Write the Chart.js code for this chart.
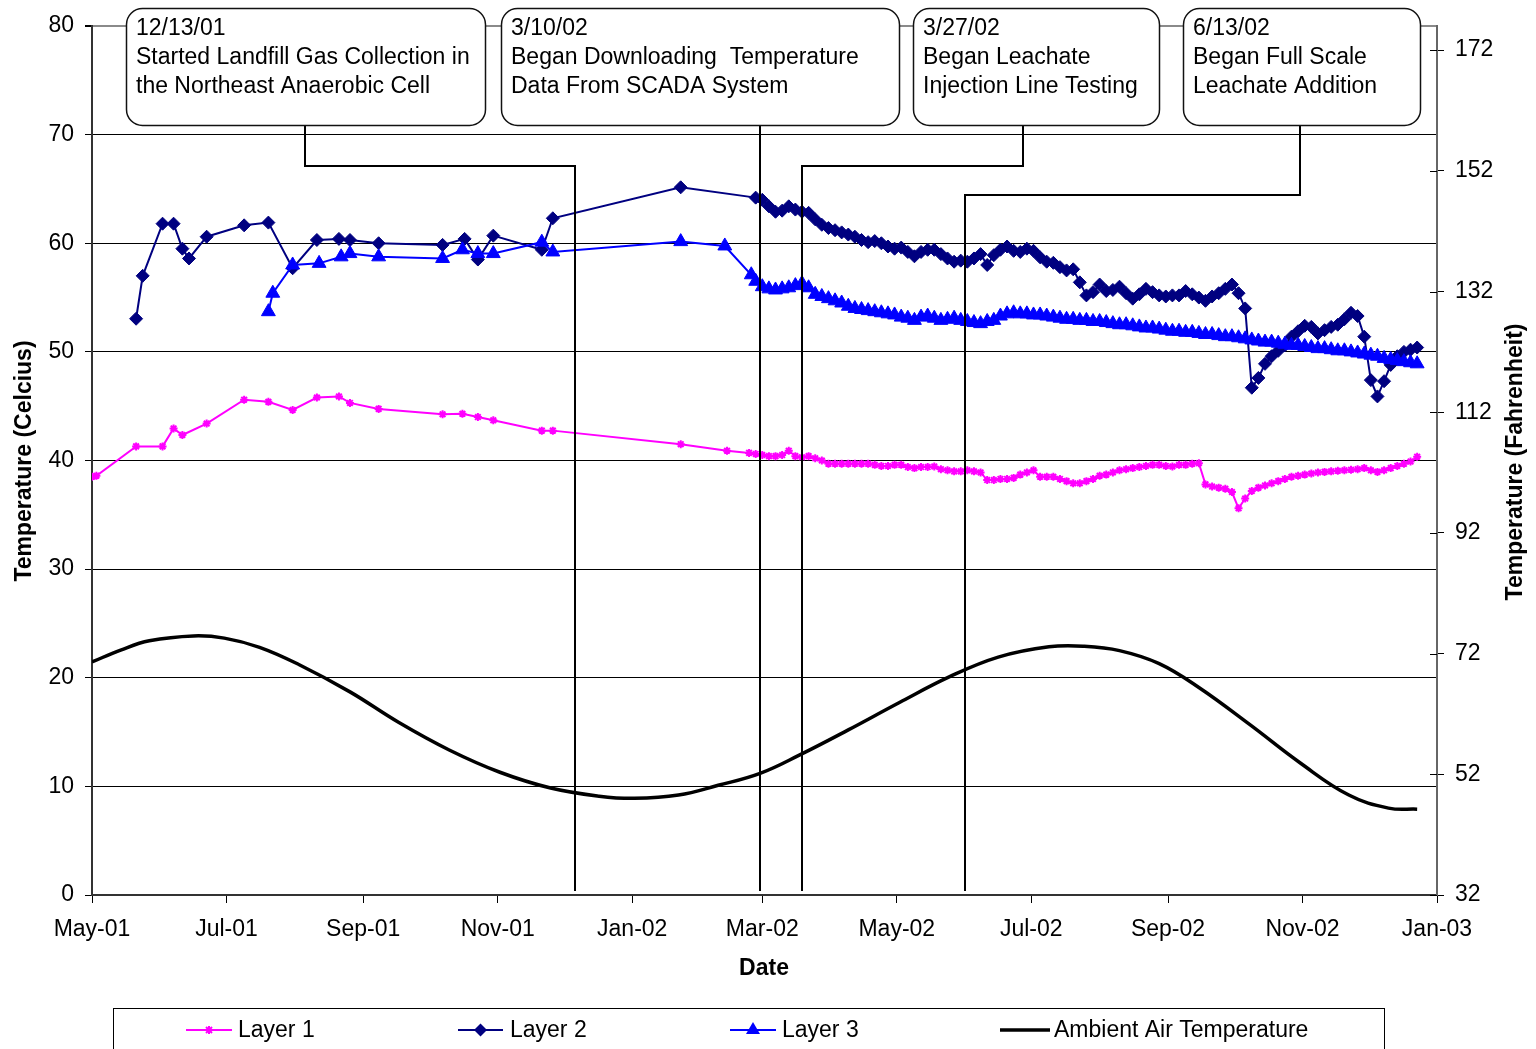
<!DOCTYPE html>
<html>
<head>
<meta charset="utf-8">
<title>Landfill Layer Temperatures</title>
<script src="https://cdn.jsdelivr.net/npm/chart.js@4.4.1/dist/chart.umd.min.js"></script>
<style>
  html, body { margin: 0; padding: 0; background: #fff; }
  canvas { display: block; }
</style>
</head>
<body>
<canvas id="chart" width="1536" height="1049"></canvas>
<script>
// ---- Manual readings (before SCADA logging) ----
const layer1Dates = ['2001-05-01','2001-05-03','2001-05-21','2001-06-02','2001-06-07','2001-06-11','2001-06-22','2001-07-09','2001-07-20','2001-07-31','2001-08-11','2001-08-21','2001-08-26','2001-09-08','2001-10-07','2001-10-16','2001-10-23','2001-10-30','2001-11-21','2001-11-26','2002-01-23','2002-02-13','2002-02-23'];
const layer1Manual = [38.5,38.6,41.3,41.3,42.95,42.35,43.4,45.6,45.4,44.65,45.8,45.9,45.3,44.75,44.25,44.3,44.0,43.7,42.75,42.75,41.5,40.9,40.7];

const layer2Dates = ['2001-05-21','2001-05-24','2001-06-02','2001-06-07','2001-06-11','2001-06-14','2001-06-22','2001-07-09','2001-07-20','2001-07-31','2001-08-11','2001-08-21','2001-08-26','2001-09-08','2001-10-07','2001-10-17','2001-10-23','2001-10-30','2001-11-21','2001-11-26','2002-01-23'];
const layer2Manual = [53.05,57.0,61.8,61.8,59.5,58.6,60.6,61.65,61.9,57.7,60.3,60.4,60.3,60.0,59.85,60.4,58.5,60.7,59.4,62.3,65.15];

const layer3Dates = ['2001-07-20','2001-07-22','2001-07-31','2001-08-12','2001-08-22','2001-08-26','2001-09-08','2001-10-07','2001-10-16','2001-10-23','2001-10-30','2001-11-21','2001-11-26','2002-01-23','2002-02-12','2002-02-24'];
const layer3Manual = [53.7,55.4,58.0,58.15,58.75,59.05,58.75,58.6,59.4,59.05,59.05,60.1,59.2,60.15,59.75,57.1];

// ---- SCADA readings, one every scadaStepDays from scadaStart ----
const scadaStart = '2002-02-26';
const scadaStepDays = 3;
const layer1Scada = [
  40.6,40.5,40.4,40.4,40.5,40.9,40.4,40.3,40.4,40.2,
  40.0,39.7,39.7,39.7,39.7,39.7,39.7,39.7,39.6,39.5,
  39.5,39.6,39.6,39.4,39.3,39.4,39.4,39.45,39.2,39.1,
  39.0,39.0,39.1,39.0,38.9,38.2,38.2,38.3,38.3,38.4,
  38.7,38.9,39.1,38.5,38.5,38.5,38.3,38.1,37.9,37.9,
  38.1,38.3,38.6,38.7,38.9,39.1,39.2,39.3,39.4,39.5,
  39.6,39.6,39.5,39.45,39.6,39.6,39.7,39.75,37.8,37.6,
  37.5,37.4,37.1,35.6,36.5,37.2,37.5,37.7,37.9,38.1,
  38.3,38.5,38.6,38.7,38.8,38.9,38.95,39.0,39.05,39.1,
  39.15,39.2,39.3,39.1,38.95,39.1,39.3,39.5,39.7,39.9,
  40.35];
const layer2Scada = [
  64.2,64.0,63.4,62.9,63.0,63.4,63.1,62.9,62.8,62.2,
  61.7,61.4,61.2,61.0,60.8,60.6,60.3,60.1,60.2,60.0,
  59.7,59.5,59.6,59.2,58.8,59.2,59.4,59.4,59.0,58.6,
  58.3,58.4,58.3,58.6,59.0,58.0,58.9,59.4,59.7,59.3,
  59.2,59.5,59.3,58.7,58.3,58.2,57.8,57.5,57.6,56.4,
  55.2,55.5,56.2,55.6,55.7,56.0,55.4,54.9,55.3,55.8,
  55.5,55.2,55.1,55.2,55.2,55.6,55.3,55.0,54.7,55.1,
  55.4,55.8,56.2,55.4,54.0,46.7,47.6,48.9,49.6,50.1,
  50.6,51.4,51.9,52.4,52.3,51.7,52.0,52.3,52.5,53.0,
  53.6,53.3,51.4,47.4,45.9,47.3,48.8,49.6,50.0,50.2,
  50.4];
const layer3Scada = [
  56.5,56.0,55.8,55.7,55.8,55.9,56.1,56.3,55.9,55.3,
  55.1,54.9,54.7,54.5,54.2,54.0,53.9,53.8,53.7,53.6,
  53.5,53.4,53.2,53.1,52.9,53.2,53.3,53.1,52.9,53.0,
  53.1,52.9,52.8,52.7,52.6,52.8,52.9,53.3,53.5,53.6,
  53.5,53.5,53.4,53.4,53.3,53.2,53.1,53.0,53.0,52.9,
  52.9,52.8,52.8,52.7,52.6,52.5,52.5,52.4,52.3,52.2,
  52.2,52.1,52.0,51.9,51.9,51.8,51.8,51.7,51.6,51.6,
  51.5,51.4,51.4,51.3,51.2,51.1,51.0,50.9,50.9,50.8,
  50.7,50.6,50.6,50.5,50.4,50.3,50.3,50.2,50.1,50.1,
  50.0,49.9,49.8,49.7,49.6,49.4,49.3,49.2,49.1,49.0,
  48.9];

// ---- Ambient air temperature ----
const ambientDates = ['2001-05-01','2001-05-14','2001-05-27','2001-06-16','2001-06-30','2001-07-16','2001-08-03','2001-08-26','2001-09-17','2001-10-10','2001-11-02','2001-11-25','2001-12-17','2002-01-02','2002-01-22','2002-02-09','2002-02-28','2002-03-18','2002-04-09','2002-05-02','2002-05-25','2002-06-16','2002-07-09','2002-07-25','2002-08-10','2002-08-28','2002-09-15','2002-10-08','2002-10-31','2002-11-22','2002-12-10','2002-12-23'];
const ambientTemps = [21.45,22.55,23.4,23.85,23.65,22.8,21.2,18.7,15.9,13.35,11.3,9.85,9.1,8.9,9.2,10.1,11.2,12.9,15.2,17.7,20.1,21.9,22.85,22.9,22.5,21.3,19.1,15.7,12.15,9.2,8.0,7.9];

// ---- Axes ----
const xTickDates = ['2001-05-01','2001-07-01','2001-09-01','2001-11-01','2002-01-01','2002-03-01','2002-05-01','2002-07-01','2002-09-01','2002-11-01','2003-01-01'];
const xTickLabels = ['May-01','Jul-01','Sep-01','Nov-01','Jan-02','Mar-02','May-02','Jul-02','Sep-02','Nov-02','Jan-03'];
const fahrenheitTicks = [32,52,72,92,112,132,152,172];

// ---- Event callouts ----
const calloutTitles = ['12/13/01','3/10/02','3/27/02','6/13/02'];
const calloutText = [
  ['Started Landfill Gas Collection in','the Northeast Anaerobic Cell'],
  ['Began Downloading  Temperature','Data From SCADA System'],
  ['Began Leachate','Injection Line Testing'],
  ['Began Full Scale','Leachate Addition']
];
const calloutLineDates = ['2001-12-06','2002-02-28','2002-03-19','2002-06-01'];

const seriesNames = ['Layer 1','Layer 2','Layer 3','Ambient Air Temperature'];

// ---- helpers ----
const BASE = Date.UTC(2001, 4, 1);
function dayOf(s) {
  const [y, m, d] = s.split('-').map(Number);
  return (Date.UTC(y, m - 1, d) - BASE) / 86400000;
}
function buildSeries(dates, manual, scada) {
  const pts = manual.map((v, i) => ({ x: dayOf(dates[i]), y: v }));
  const s0 = dayOf(scadaStart);
  (scada || []).forEach((v, i) => pts.push({ x: s0 + i * scadaStepDays, y: v }));
  return pts;
}
const xTickDays = xTickDates.map(dayOf);

const FONT = '"Liberation Sans", Arial, sans-serif';
const FONT_SIZE = 23;
Chart.defaults.font.family = FONT;
Chart.defaults.font.size = FONT_SIZE;
Chart.defaults.color = '#000';

const COLORS = { l1: '#FF00FF', l2: '#000080', l3: '#0000FF', amb: '#000000' };

// ---- overlay: callouts, titles, legend ----
const overlay = {
  id: 'overlay',
  afterDatasetsDraw(chart) {
    const { ctx, chartArea } = chart;
    const x = chart.scales.x, yF = chart.scales.yF;
    ctx.save();

    // inner tick stubs on the Fahrenheit axis
    ctx.strokeStyle = '#000';
    ctx.lineWidth = 1;
    yF.ticks.forEach(t => {
      const py = Math.round(yF.getPixelForValue(t.value)) + 0.5;
      ctx.beginPath();
      ctx.moveTo(chartArea.right - 7, py);
      ctx.lineTo(chartArea.right, py);
      ctx.stroke();
    });

    // callout connectors and boxes
    const boxes = [
      { left: 126, right: 485, stemX: 305, elbowY: 166 },
      { left: 501, right: 899, stemX: null },
      { left: 913, right: 1159, stemX: 1023, elbowY: 166 },
      { left: 1183, right: 1420, stemX: 1300, elbowY: 195 }
    ];
    const boxTop = 8, boxBottom = 125, lineEnd = 891;
    boxes.forEach((b, i) => {
      const lx = Math.round(x.getPixelForValue(dayOf(calloutLineDates[i])));
      ctx.strokeStyle = '#000';
      ctx.lineWidth = 2;
      ctx.beginPath();
      if (b.stemX !== null) {
        ctx.moveTo(b.stemX, boxBottom);
        ctx.lineTo(b.stemX, b.elbowY);
        ctx.lineTo(lx, b.elbowY);
        ctx.lineTo(lx, lineEnd);
      } else {
        ctx.moveTo(lx, boxBottom);
        ctx.lineTo(lx, lineEnd);
      }
      ctx.stroke();

      ctx.beginPath();
      ctx.roundRect(b.left + 0.5, boxTop + 0.5, b.right - b.left, boxBottom - boxTop, 16);
      ctx.fillStyle = '#fff';
      ctx.fill();
      ctx.lineWidth = 1.5;
      ctx.strokeStyle = '#111';
      ctx.stroke();

      ctx.fillStyle = '#000';
      ctx.font = FONT_SIZE + 'px ' + FONT;
      ctx.textAlign = 'left';
      ctx.textBaseline = 'middle';
      const lines = [calloutTitles[i]].concat(calloutText[i]);
      lines.forEach((t, j) => ctx.fillText(t, b.left + 10, 29 + j * 29));
    });

    // axis titles
    ctx.fillStyle = '#000';
    ctx.font = 'bold ' + FONT_SIZE + 'px ' + FONT;
    ctx.textAlign = 'center';
    ctx.textBaseline = 'middle';
    ctx.fillText('Date', 764, 969);
    ctx.save();
    ctx.translate(25, 461);
    ctx.rotate(-Math.PI / 2);
    ctx.fillText('Temperature (Celcius)', 0, 0);
    ctx.restore();
    ctx.save();
    ctx.translate(1516, 462);
    ctx.rotate(-Math.PI / 2);
    ctx.fillText('Temperature (Fahrenheit)', 0, 0);
    ctx.restore();

    // legend
    ctx.strokeStyle = '#000';
    ctx.lineWidth = 1;
    ctx.strokeRect(113.5, 1008.5, 1271, 60);
    const ly = 1030;
    const items = [
      { x1: 186, x2: 232, tx: 238, color: COLORS.l1, lw: 2, marker: 'star' },
      { x1: 458, x2: 503, tx: 510, color: COLORS.l2, lw: 2, marker: 'diamond' },
      { x1: 730, x2: 776, tx: 782, color: COLORS.l3, lw: 2, marker: 'triangle' },
      { x1: 1000, x2: 1050, tx: 1054, color: COLORS.amb, lw: 3.5, marker: null }
    ];
    items.forEach((it, i) => {
      ctx.strokeStyle = it.color;
      ctx.fillStyle = it.color;
      ctx.lineWidth = it.lw;
      ctx.beginPath();
      ctx.moveTo(it.x1, ly);
      ctx.lineTo(it.x2, ly);
      ctx.stroke();
      const cx = (it.x1 + it.x2) / 2;
      if (it.marker === 'diamond') {
        ctx.beginPath();
        ctx.moveTo(cx, ly - 6.5); ctx.lineTo(cx + 6.5, ly);
        ctx.lineTo(cx, ly + 6.5); ctx.lineTo(cx - 6.5, ly);
        ctx.closePath(); ctx.fill();
      } else if (it.marker === 'triangle') {
        ctx.beginPath();
        ctx.moveTo(cx, ly - 8); ctx.lineTo(cx + 7, ly + 4);
        ctx.lineTo(cx - 7, ly + 4); ctx.closePath(); ctx.fill();
      } else if (it.marker === 'star') {
        ctx.lineWidth = 2;
        ctx.beginPath();
        ctx.moveTo(cx - 3, ly - 3); ctx.lineTo(cx + 3, ly + 3);
        ctx.moveTo(cx + 3, ly - 3); ctx.lineTo(cx - 3, ly + 3);
        ctx.moveTo(cx, ly - 4); ctx.lineTo(cx, ly + 4);
        ctx.stroke();
      }
      ctx.fillStyle = '#000';
      ctx.font = FONT_SIZE + 'px ' + FONT;
      ctx.textAlign = 'left';
      ctx.textBaseline = 'middle';
      ctx.fillText(seriesNames[i], it.tx, ly + 1);
    });

    ctx.restore();
  }
};

new Chart(document.getElementById('chart'), {
  type: 'line',
  data: {
    datasets: [
      {
        label: seriesNames[0],
        data: buildSeries(layer1Dates, layer1Manual, layer1Scada),
        borderColor: COLORS.l1, backgroundColor: COLORS.l1,
        borderWidth: 2, tension: 0,
        pointStyle: 'star', pointRadius: 4, pointBorderWidth: 2,
        pointBorderColor: COLORS.l1, pointBackgroundColor: COLORS.l1,
        order: 3
      },
      {
        label: seriesNames[1],
        data: buildSeries(layer2Dates, layer2Manual, layer2Scada),
        borderColor: COLORS.l2, backgroundColor: COLORS.l2,
        borderWidth: 2, tension: 0,
        pointStyle: 'rectRot', pointRadius: 6.5, pointBorderWidth: 1,
        pointBorderColor: COLORS.l2, pointBackgroundColor: COLORS.l2,
        order: 2
      },
      {
        label: seriesNames[2],
        data: buildSeries(layer3Dates, layer3Manual, layer3Scada),
        borderColor: COLORS.l3, backgroundColor: COLORS.l3,
        borderWidth: 2, tension: 0,
        pointStyle: 'triangle', pointRadius: 8, pointBorderWidth: 1,
        pointBorderColor: COLORS.l3, pointBackgroundColor: COLORS.l3,
        order: 1
      },
      {
        label: seriesNames[3],
        data: ambientDates.map((d, i) => ({ x: dayOf(d), y: ambientTemps[i] })),
        borderColor: COLORS.amb, borderWidth: 3.5,
        pointRadius: 0, tension: 0.4,
        order: 0
      }
    ]
  },
  options: {
    responsive: false,
    animation: false,
    events: [],
    layout: { padding: { top: 26, left: 0, right: 0, bottom: 0 } },
    plugins: { legend: { display: false }, tooltip: { enabled: false } },
    scales: {
      x: {
        type: 'linear',
        min: xTickDays[0],
        max: xTickDays[xTickDays.length - 1],
        afterBuildTicks: axis => { axis.ticks = xTickDays.map(v => ({ value: v })); },
        afterFit: axis => { axis.height = 154; },
        ticks: {
          autoSkip: false, maxRotation: 0, padding: 13,
          callback: v => { const i = xTickDays.indexOf(v); return i >= 0 ? xTickLabels[i] : ''; }
        },
        grid: { drawOnChartArea: false, tickLength: 8, color: '#000', tickColor: '#000' },
        border: { color: '#333', width: 2 }
      },
      y: {
        position: 'left',
        min: 0, max: 80,
        afterFit: axis => { axis.width = 92; },
        ticks: { stepSize: 10, padding: 11 },
        grid: {
          color: c => (c.tick && c.tick.value === 80) ? '#8a8a8a' : '#000',
          lineWidth: c => (c.tick && c.tick.value === 80) ? 2 : 1,
          tickColor: '#000', tickLength: 7
        },
        border: { color: '#333', width: 2 }
      },
      yF: {
        position: 'right',
        min: 32, max: 176,
        afterBuildTicks: axis => { axis.ticks = fahrenheitTicks.map(v => ({ value: v })); },
        afterFit: axis => { axis.width = 99; },
        ticks: { padding: 11 },
        grid: { drawOnChartArea: false, tickLength: 7, color: '#000', tickColor: '#000' },
        border: { color: '#666', width: 2 }
      }
    }
  },
  plugins: [overlay]
});
</script>
</body>
</html>
